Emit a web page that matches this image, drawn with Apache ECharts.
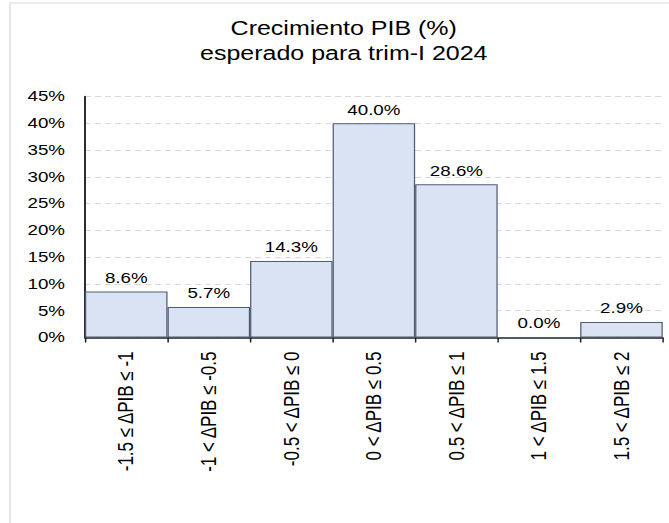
<!DOCTYPE html>
<html>
<head>
<meta charset="utf-8">
<script src="https://cdn.jsdelivr.net/npm/echarts@6/dist/echarts.min.js"></script>
<style>
  html, body { margin: 0; padding: 0; background: #ffffff; overflow: hidden; }
  #chart { width: 535.2px; height: 523px; transform: scaleX(1.25); transform-origin: 0 0; }
</style>
</head>
<body>
<div id="chart"></div>
<script>
const categories = [
  '-1.5 ≤ ΔPIB ≤ -1',
  '-1 < ΔPIB ≤ -0.5',
  '-0.5 < ΔPIB ≤ 0',
  '0 < ΔPIB ≤ 0.5',
  '0.5 < ΔPIB ≤ 1',
  '1 < ΔPIB ≤ 1.5',
  '1.5 < ΔPIB ≤ 2'
];
const shares = [8.6, 5.7, 14.3, 40.0, 28.6, 0.0, 2.9];
const titleLines = ['Crecimiento PIB (%)', 'esperado para trim-I 2024'];
const yMin = 0, yMax = 45, yStep = 5;

const chart = echarts.init(document.getElementById('chart'), null, { renderer: 'svg' });
const FONT = '"Liberation Sans", Arial, sans-serif';

chart.setOption({
  animation: false,
  backgroundColor: '#ffffff',
  graphic: [{
    type: 'rect',
    shape: { x: 8, y: 3, width: 1000, height: 1000 },
    style: { fill: 'none', stroke: '#d9d9d9', lineWidth: 1 },
    silent: true
  }],
  title: {
    text: titleLines.join('\n'),
    left: 275,
    top: 16,
    padding: 0,
    textAlign: 'center',
    textStyle: {
      fontFamily: FONT,
      fontSize: 20,
      fontWeight: 'normal',
      color: '#000000',
      lineHeight: 25
    }
  },
  grid: { left: 68, right: 4.8, top: 96.5, bottom: 185.5, containLabel: false },
  xAxis: {
    type: 'category',
    data: categories,
    boundaryGap: true,
    axisLine: { show: true, lineStyle: { color: '#1f1f1f', width: 1.5 } },
    axisTick: { show: true, alignWithLabel: false, interval: 0, length: 5, lineStyle: { color: '#1f1f1f', width: 1.2 } },
    axisLabel: {
      interval: 0,
      rotate: 90,
      margin: 14,
      fontFamily: FONT,
      fontSize: 17,
      color: '#000000'
    },
    splitLine: { show: false }
  },
  yAxis: {
    type: 'value',
    min: yMin,
    max: yMax,
    interval: yStep,
    axisLine: { show: true, lineStyle: { color: '#1f1f1f', width: 1.5 } },
    axisTick: { show: false },
    axisLabel: {
      formatter: '{value}%',
      margin: 16,
      fontFamily: FONT,
      fontSize: 15,
      color: '#000000'
    },
    splitLine: { show: true, lineStyle: { color: '#d9d9d9', type: [4.8, 3.2], width: 1 } }
  },
  series: [{
    type: 'bar',
    data: shares,
    barCategoryGap: '0%',
    itemStyle: { color: '#dae3f3', borderColor: '#4f5d73', borderWidth: 1 },
    label: {
      show: true,
      position: 'top',
      distance: 6,
      formatter: p => p.value.toFixed(1) + '%',
      fontFamily: FONT,
      fontSize: 15,
      color: '#000000'
    }
  }]
});
</script>
</body>
</html>
